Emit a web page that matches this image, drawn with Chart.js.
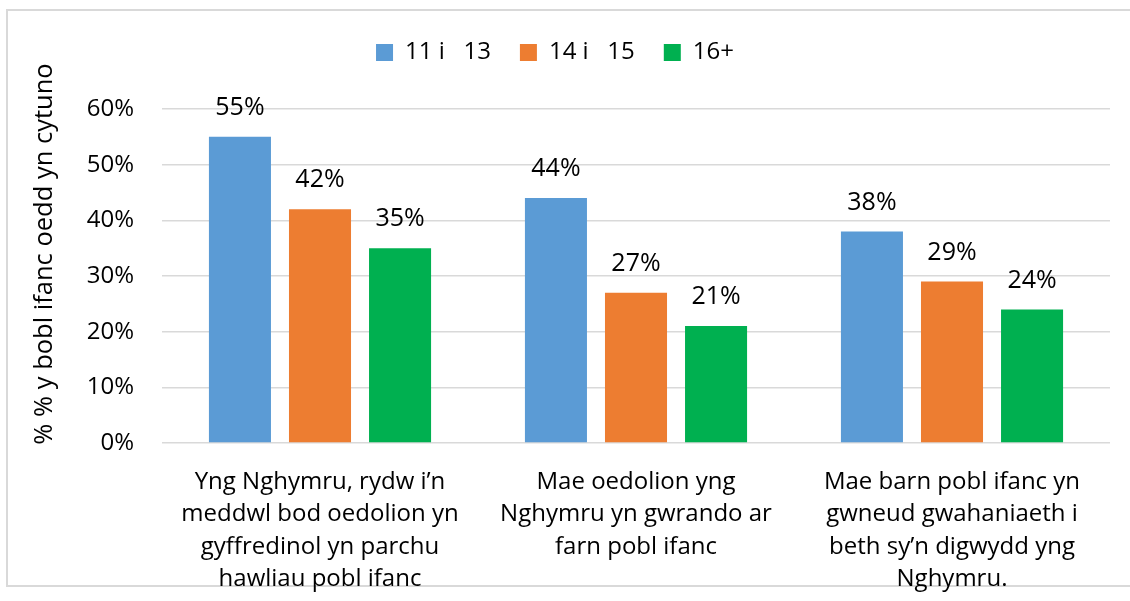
<!DOCTYPE html>
<html>
<head>
<meta charset="utf-8">
<script src="https://cdn.jsdelivr.net/npm/chart.js@4.4.1/dist/chart.umd.min.js"></script>
<style>
  html, body { margin: 0; padding: 0; background: #fff; }
  #chart { display: block; }
</style>
</head>
<body>
<canvas id="chart" width="1130" height="601"></canvas>
<script>
// statements, one multi-line label each
const categories = [
  ["Yng Nghymru, rydw i’n", "meddwl bod oedolion yn", "gyffredinol yn parchu", "hawliau pobl ifanc"],
  ["Mae oedolion yng", "Nghymru yn gwrando ar", "farn pobl ifanc"],
  ["Mae barn pobl ifanc yn", "gwneud gwahaniaeth i", "beth sy’n digwydd yng", "Nghymru."]
];
const seriesNames = ["11 i   13", "14 i   15", "16+"];
const age11to13 = [55, 44, 38];
const age14to15 = [42, 27, 29];
const age16plus = [35, 21, 24];
const yTicks = [0, 10, 20, 30, 40, 50, 60];
const yTitle = "% % y bobl ifanc oedd yn cytuno";

const colors = ["#5B9BD5", "#ED7D31", "#00B050"];
const FONT = "'Open Sans', sans-serif";

Chart.defaults.font.family = FONT;
Chart.defaults.color = "#000";

// outer frame of the chart box
const frame = {
  id: "frame",
  beforeDraw(chart) {
    const c = chart.ctx;
    c.save();
    c.fillStyle = "#fff";
    c.fillRect(0, 0, chart.width, chart.height);
    c.strokeStyle = "#d9d9d9";
    c.lineWidth = 2;
    c.beginPath();
    c.moveTo(chart.width, 10);
    c.lineTo(7, 10);
    c.lineTo(7, 586);
    c.lineTo(chart.width, 586);
    c.stroke();
    c.restore();
  }
};

// extra room between legend and plot
const legendGap = {
  id: "legendGap",
  beforeInit(chart) {
    const fit = chart.legend.fit;
    chart.legend.fit = function () {
      fit.bind(chart.legend)();
      this.height += 34.5;
    };
  }
};

// value labels above bars + rotated axis title
const barLabels = {
  id: "barLabels",
  afterDatasetsDraw(chart) {
    const c = chart.ctx;
    c.save();
    c.font = "25px " + FONT;
    c.fillStyle = "#000";
    c.textAlign = "center";
    c.textBaseline = "middle";
    chart.data.datasets.forEach((ds, i) => {
      chart.getDatasetMeta(i).data.forEach((bar, j) => {
        c.fillText(ds.data[j] + "%", bar.x, bar.y - 29);
      });
    });
    const area = chart.chartArea;
    c.translate(45, (area.top + area.bottom) / 2 - 22);
    c.rotate(-Math.PI / 2);
    c.font = "25.5px " + FONT;
    c.fillText(yTitle, 0, 0);
    c.restore();
  }
};

new Chart(document.getElementById("chart"), {
  type: "bar",
  data: {
    labels: categories,
    datasets: [
      { label: seriesNames[0], data: age11to13, backgroundColor: colors[0] },
      { label: seriesNames[1], data: age14to15, backgroundColor: colors[1] },
      { label: seriesNames[2], data: age16plus, backgroundColor: colors[2] }
    ]
  },
  options: {
    responsive: false,
    animation: false,
    devicePixelRatio: 1,
    categoryPercentage: 0.76,
    barPercentage: 0.775,
    layout: { padding: { top: 11.5, right: 20, left: 0, bottom: 0 } },
    plugins: {
      legend: {
        position: "top",
        labels: {
          boxWidth: 17,
          boxHeight: 17,
          padding: 29,
          font: { size: 24 },
          color: "#000"
        }
      },
      tooltip: { enabled: false }
    },
    scales: {
      x: {
        grid: { display: false, drawTicks: false },
        border: { display: false },
        ticks: { padding: 23, font: { size: 24, lineHeight: 1.35 }, color: "#000", maxRotation: 0, autoSkip: false },
        afterFit(scale) { scale.height = 158; }
      },
      y: {
        min: 0,
        max: 60,
        afterBuildTicks(scale) { scale.ticks = yTicks.map(v => ({ value: v })); },
        grid: { color: "#d9d9d9", lineWidth: 1.5, drawTicks: false },
        border: { display: false },
        ticks: { padding: 28, font: { size: 24 }, color: "#000", callback: v => v + "%" },
        afterFit(scale) { scale.width = 162; }
      }
    }
  },
  plugins: [frame, legendGap, barLabels]
});
</script>
</body>
</html>
